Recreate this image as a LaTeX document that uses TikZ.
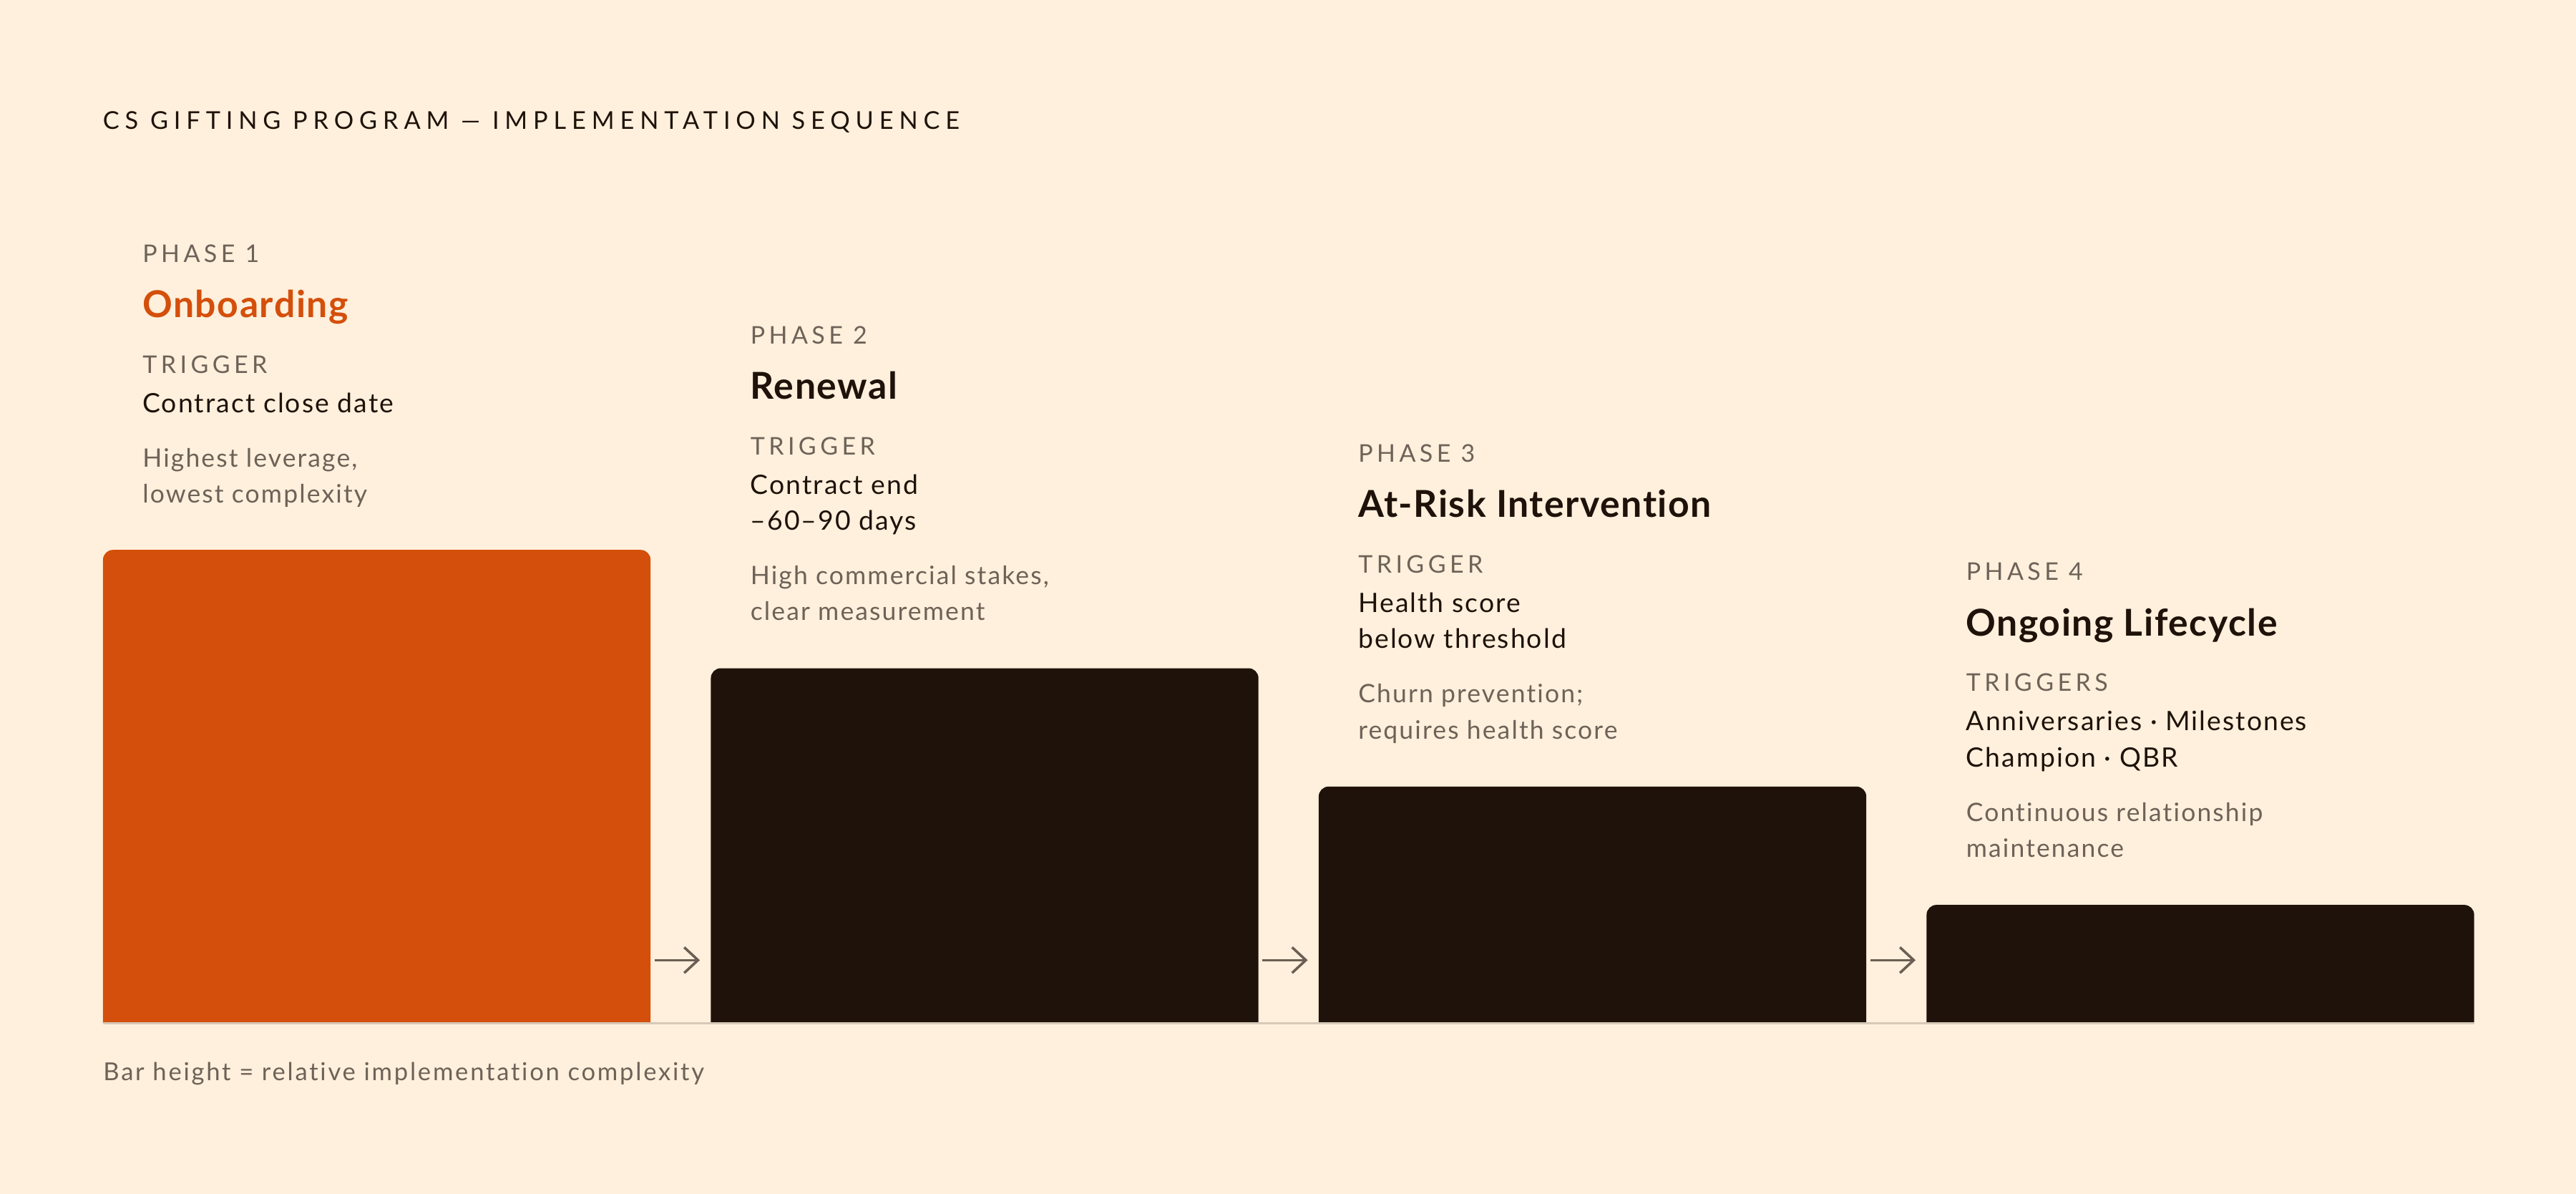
\documentclass[tikz,border=0pt]{standalone}
\usepackage{fontspec}
\setmainfont{Lato}[Ligatures={NoCommon}]
\usetikzlibrary{arrows.meta}
\definecolor{bgc}{HTML}{FEF0DC}
\definecolor{orangec}{HTML}{D44F0B}
\definecolor{darkc}{HTML}{1E120A}
\definecolor{greyc}{HTML}{6E6258}
\definecolor{arrowc}{HTML}{6B5E53}
\definecolor{basec}{HTML}{D6C9B8}
\begin{document}
\begin{tikzpicture}[x=0.75pt,y=-0.75pt,
  txt/.style={anchor=base west, inner sep=0pt, outer sep=0pt},
  titletxt/.style={txt, text=darkc, font=\fontsize{11.2}{13}\selectfont\addfontfeature{LetterSpace=23}},
  phaselbl/.style={txt, text=greyc, font=\fontsize{11.1}{13}\selectfont\addfontfeature{LetterSpace=16}},
  headtxt/.style={txt, font=\fontsize{16.9}{20}\selectfont\bfseries\addfontfeature{LetterSpace=3}},
  trigtxt/.style={txt, text=darkc, font=\fontsize{12.2}{15}\selectfont\addfontfeature{LetterSpace=5.5}},
  desctxt/.style={txt, text=greyc, font=\fontsize{11.6}{14}\selectfont\addfontfeature{LetterSpace=6}},
  foottxt/.style={txt, text=greyc, font=\fontsize{11.3}{14}\selectfont\addfontfeature{LetterSpace=8}},
  barfill/.style={rounded corners=4.5pt},
  flow/.style={draw=arrowc, line width=1.15pt, -{Straight Barb[length=6.3pt,width=11.7pt]}}
]
\fill[bgc] (0,0) rectangle (1568,726.5);
\useasboundingbox (0,0) rectangle (1568,726.5);

% title
\node[titletxt] (title) at (62.7,78.4) {CS GIFTING PROGRAM — IMPLEMENTATION SEQUENCE};

% bars
\fill[orangec, barfill] (62.7,622.5) -- (62.7,334.6) -- (396,334.6) -- (396,622.5);
\fill[darkc, barfill] (432.7,622.5) -- (432.7,406.6) -- (766,406.6) -- (766,622.5);
\fill[darkc, barfill] (802.7,622.5) -- (802.7,478.6) -- (1136,478.6) -- (1136,622.5);
\fill[darkc, barfill] (1172.7,622.5) -- (1172.7,550.6) -- (1506,550.6) -- (1506,622.5);

% baseline
\coordinate (bl) at (62.7,622.6);
\coordinate (br) at (1506,622.6);
\draw[basec, line width=1pt] (bl) -- (br);

% phase 1
\node[phaselbl] (p1lbl) at (86.8,159.5) {PHASE 1};
\node[headtxt, text=orangec] (p1head) at (86.8,193.3) {Onboarding};
\node[phaselbl] (p1trig) at (86.8,227) {TRIGGER};
\node[trigtxt] (p1t1) at (86.8,251) {Contract close date};
\node[desctxt] (p1d1) at (86.8,284) {Highest leverage,};
\node[desctxt] (p1d2) at (86.8,306) {lowest complexity};

% phase 2
\node[phaselbl] (p2lbl) at (456.8,209.1) {PHASE 2};
\node[headtxt, text=darkc] (p2head) at (456.8,242.9) {Renewal};
\node[phaselbl] (p2trig) at (456.8,276.6) {TRIGGER};
\node[trigtxt] (p2t1) at (456.8,300.6) {Contract end};
\node[trigtxt] (p2t2) at (456.8,322.6) {–60–90 days};
\node[desctxt] (p2d1) at (456.8,355.6) {High commercial stakes,};
\node[desctxt] (p2d2) at (456.8,377.6) {clear measurement};

% phase 3
\node[phaselbl] (p3lbl) at (826.8,281.1) {PHASE 3};
\node[headtxt, text=darkc] (p3head) at (826.8,314.9) {At-Risk Intervention};
\node[phaselbl] (p3trig) at (826.8,348.6) {TRIGGER};
\node[trigtxt] (p3t1) at (826.8,372.6) {Health score};
\node[trigtxt] (p3t2) at (826.8,394.6) {below threshold};
\node[desctxt] (p3d1) at (826.8,427.6) {Churn prevention;};
\node[desctxt] (p3d2) at (826.8,449.6) {requires health score};

% phase 4
\node[phaselbl] (p4lbl) at (1196.8,353.1) {PHASE 4};
\node[headtxt, text=darkc] (p4head) at (1196.8,386.9) {Ongoing Lifecycle};
\node[phaselbl] (p4trig) at (1196.8,420.6) {TRIGGERS};
\node[trigtxt] (p4t1) at (1196.8,444.6) {Anniversaries · Milestones};
\node[trigtxt] (p4t2) at (1196.8,466.6) {Champion · QBR};
\node[desctxt] (p4d1) at (1196.8,499.6) {Continuous relationship};
\node[desctxt] (p4d2) at (1196.8,521.6) {maintenance};

% arrows
\coordinate (a1s) at (398.5,584.2); \coordinate (a1e) at (426,584.2);
\coordinate (a2s) at (768.5,584.2); \coordinate (a2e) at (796,584.2);
\coordinate (a3s) at (1138.5,584.2); \coordinate (a3e) at (1166,584.2);
\draw[flow] (a1s) -- (a1e);
\draw[flow] (a2s) -- (a2e);
\draw[flow] (a3s) -- (a3e);

% footnote
\node[foottxt] (foot) at (62.9,657.5) {Bar height = relative implementation complexity};
\end{tikzpicture}
\end{document}
